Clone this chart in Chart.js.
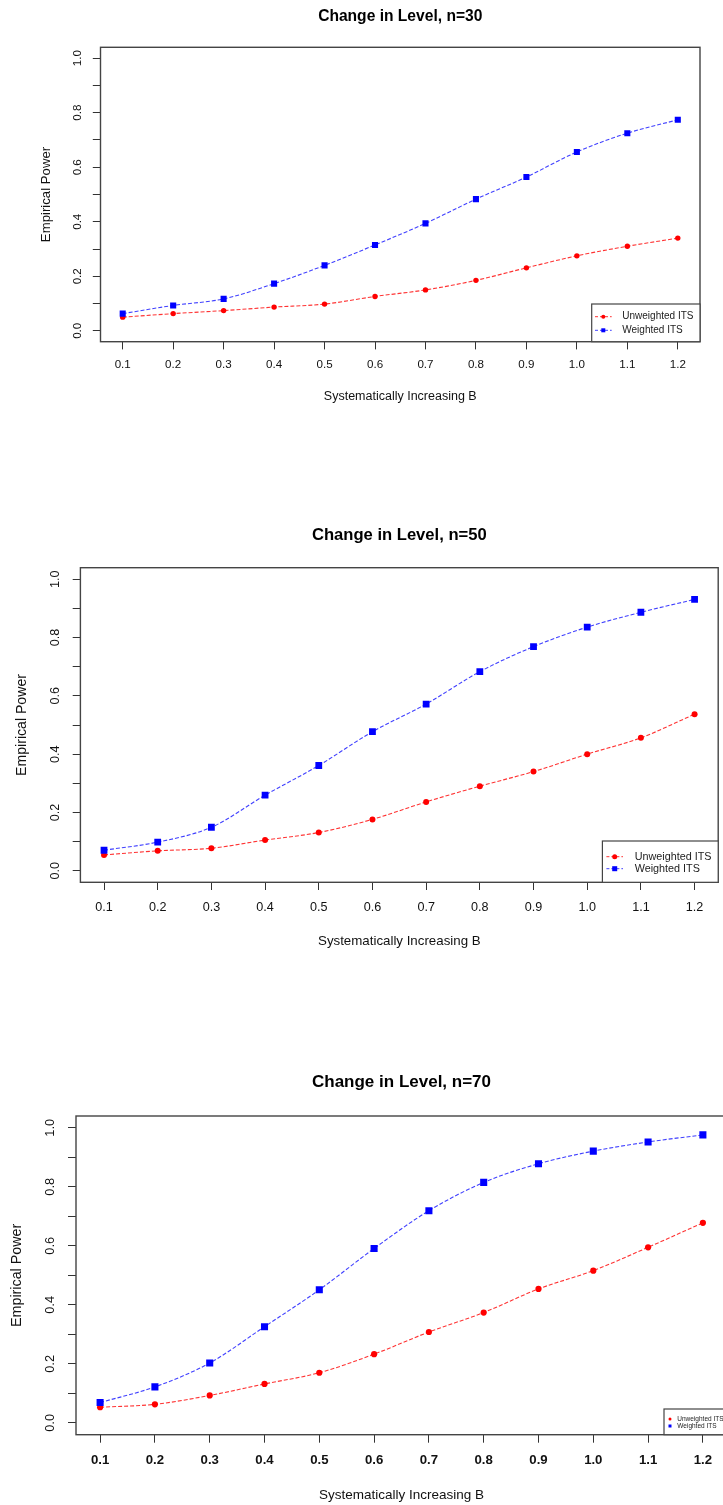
<!DOCTYPE html>
<html>
<head>
<meta charset="utf-8">
<title>Change in Level</title>
<script src="https://cdn.jsdelivr.net/npm/chart.js@4.4.1/dist/chart.umd.min.js"></script>
<style>
  html, body { margin: 0; padding: 0; background: #fff; overflow: hidden; }
  body { position: relative; width: 723px; height: 1505px; }
  canvas { position: absolute; left: 0; }
</style>
</head>
<body>
<canvas id="n30" width="723" height="430" style="top:0px"></canvas>
<canvas id="n50" width="723" height="460" style="top:500px"></canvas>
<canvas id="n70" width="735" height="455" style="top:1050px"></canvas>
<script>
const bValues = [0.1, 0.2, 0.3, 0.4, 0.5, 0.6, 0.7, 0.8, 0.9, 1.0, 1.1, 1.2];
const xTickLabels = ['0.1', '0.2', '0.3', '0.4', '0.5', '0.6', '0.7', '0.8', '0.9', '1.0', '1.1', '1.2'];
const yTickValues = [0, 0.1, 0.2, 0.3, 0.4, 0.5, 0.6, 0.7, 0.8, 0.9, 1.0];
const yTickLabels = ['0.0', '0.2', '0.4', '0.6', '0.8', '1.0'];
const seriesNames = ['Unweighted ITS', 'Weighted ITS'];

const unweighted30 = [0.050, 0.063, 0.074, 0.087, 0.098, 0.126, 0.150, 0.185, 0.231, 0.275, 0.310, 0.340];
const weighted30 = [0.063, 0.093, 0.117, 0.173, 0.240, 0.315, 0.394, 0.483, 0.564, 0.656, 0.725, 0.774];
const unweighted50 = [0.054, 0.068, 0.077, 0.105, 0.131, 0.176, 0.236, 0.290, 0.340, 0.400, 0.456, 0.537];
const weighted50 = [0.070, 0.098, 0.149, 0.259, 0.361, 0.477, 0.572, 0.683, 0.769, 0.836, 0.887, 0.931];
const unweighted70 = [0.053, 0.063, 0.093, 0.132, 0.170, 0.233, 0.308, 0.374, 0.454, 0.516, 0.595, 0.678];
const weighted70 = [0.069, 0.122, 0.203, 0.326, 0.451, 0.591, 0.719, 0.815, 0.878, 0.921, 0.952, 0.976];

const FONT = '"Liberation Sans", Arial, sans-serif';

// box, main title, rotated y labels and the legend, drawn the way R base graphics does
const rPlot = {
    id: 'rPlot',
    afterDraw(chart, args, opts) {
        const ctx = chart.ctx;
        const a = chart.chartArea;
        const y = chart.scales.y;
        ctx.save();

        ctx.strokeStyle = '#444';
        ctx.lineWidth = 1.4;
        ctx.strokeRect(a.left, a.top, a.right - a.left, a.bottom - a.top);

        ctx.fillStyle = '#000';
        ctx.textAlign = 'center';
        ctx.textBaseline = 'middle';
        ctx.font = 'bold ' + opts.titleSize + 'px ' + FONT;
        ctx.fillText(opts.title, (a.left + a.right) / 2, opts.titleY);

        ctx.fillStyle = '#111';
        ctx.font = opts.yLabelSize + 'px ' + FONT;
        yTickLabels.forEach(t => {
            ctx.save();
            ctx.translate(a.left - opts.yLabelGap, y.getPixelForValue(parseFloat(t)));
            ctx.rotate(-Math.PI / 2);
            ctx.fillText(t, 0, 0);
            ctx.restore();
        });

        const lg = opts.legend;
        const left = a.right - lg.w;
        const top = a.bottom - lg.h;
        ctx.fillStyle = '#fff';
        ctx.fillRect(left, top, lg.w, lg.h);
        ctx.strokeStyle = '#444';
        ctx.lineWidth = 1.2;
        ctx.strokeRect(left, top, lg.w, lg.h);

        chart.data.datasets.forEach((ds, i) => {
            const cy = top + lg.rows[i];
            if (lg.seg) {
                ctx.save();
                ctx.strokeStyle = ds.borderColor;
                ctx.lineWidth = 1;
                ctx.setLineDash([3, 2]);
                ctx.beginPath();
                ctx.moveTo(left + lg.seg[0], cy);
                ctx.lineTo(left + lg.seg[1], cy);
                ctx.stroke();
                ctx.restore();
            }
            const mx = left + lg.markX;
            ctx.fillStyle = ds.backgroundColor;
            if (ds.pointStyle === 'rect') {
                ctx.fillRect(mx - lg.square / 2, cy - lg.square / 2, lg.square, lg.square);
            } else {
                ctx.beginPath();
                ctx.arc(mx, cy, lg.dot, 0, Math.PI * 2);
                ctx.fill();
            }
            ctx.fillStyle = '#222';
            ctx.textAlign = 'left';
            ctx.font = lg.font + 'px ' + FONT;
            ctx.fillText(ds.label, left + lg.textX, cy);
        });
        ctx.restore();
    }
};

function series(label, values, line, color, style, radius, order) {
    return {
        label: label,
        data: bValues.map((b, i) => ({ x: b, y: values[i] })),
        order: order,
        borderColor: line,
        backgroundColor: color,
        borderWidth: 1.1,
        borderDash: [4, 2],
        pointStyle: style,
        pointRadius: radius,
        pointHoverRadius: radius,
        pointBorderWidth: 0,
        cubicInterpolationMode: 'monotone',
        fill: false
    };
}

function makeChart(id, c) {
    new Chart(document.getElementById(id), {
        type: 'line',
        data: {
            datasets: [
                // weighted series sits on top of the unweighted one
                series(seriesNames[0], c.unweighted, 'rgba(255,0,0,0.8)', '#ff0000', 'circle', c.dotR, 1),
                series(seriesNames[1], c.weighted, 'rgba(0,0,255,0.75)', '#0000ff', 'rect', c.squareR, 0)
            ]
        },
        options: {
            responsive: false,
            animation: false,
            events: [],
            layout: { padding: c.padding },
            plugins: {
                legend: { display: false },
                tooltip: { enabled: false },
                rPlot: {
                    title: c.title,
                    titleSize: c.titleSize,
                    titleY: c.titleY,
                    yLabelSize: c.yLabelSize,
                    yLabelGap: c.yLabelGap,
                    legend: c.legend
                }
            },
            scales: {
                x: {
                    type: 'linear',
                    min: 0.056,
                    max: 1.244,
                    afterBuildTicks: s => { s.ticks = bValues.map(v => ({ value: v })); },
                    afterFit: s => { s.height = c.xHeight; },
                    border: { display: false },
                    grid: { drawOnChartArea: false, drawTicks: true, tickLength: c.tickLen, color: '#333' },
                    ticks: {
                        autoSkip: false,
                        maxRotation: 0,
                        minRotation: 0,
                        padding: c.xTickPad,
                        color: '#111',
                        font: { family: FONT, size: c.xTickSize, weight: c.xTickWeight, lineHeight: 1.2 },
                        callback: (v, i) => xTickLabels[i]
                    },
                    title: {
                        display: true,
                        text: 'Systematically Increasing B',
                        color: '#111',
                        font: { family: FONT, size: c.xTitleSize, lineHeight: 1.2 },
                        padding: { top: 0, bottom: c.xTitlePad }
                    }
                },
                y: {
                    min: -0.04,
                    max: 1.04,
                    afterBuildTicks: s => { s.ticks = yTickValues.map(v => ({ value: v })); },
                    afterFit: s => { s.width = c.yWidth; },
                    border: { display: false },
                    grid: { drawOnChartArea: false, drawTicks: true, tickLength: c.tickLen, color: '#333' },
                    ticks: { display: false },
                    title: {
                        display: true,
                        text: 'Empirical Power',
                        color: '#111',
                        font: { family: FONT, size: c.yTitleSize, lineHeight: 1.2 },
                        padding: { top: c.yTitlePad, bottom: 0 }
                    }
                }
            }
        },
        plugins: [rPlot]
    });
}

makeChart('n30', {
    title: 'Change in Level, n=30', titleSize: 15.6, titleY: 16.7,
    unweighted: unweighted30, weighted: weighted30, dotR: 2.7, squareR: 4.3,
    padding: { top: 47.3, right: 23, bottom: 0, left: 0 },
    yWidth: 100.5, xHeight: 88.3, tickLen: 7.7,
    xTickSize: 11.6, xTickWeight: 'normal', xTickPad: 8.9,
    xTitleSize: 12.5, xTitlePad: 25.5,
    yTitleSize: 13.2, yTitlePad: 38.1,
    yLabelSize: 11.6, yLabelGap: 23,
    legend: { w: 108.3, h: 37.7, rows: [12.7, 26.3], seg: [3.3, 20], markX: 11.6, textX: 30.6, font: 10, dot: 2, square: 4 }
});

makeChart('n50', {
    title: 'Change in Level, n=50', titleSize: 16.6, titleY: 35,
    unweighted: unweighted50, weighted: weighted50, dotR: 3, squareR: 4.8,
    padding: { top: 67.7, right: 0.5, bottom: 0, left: 0 },
    yWidth: 80.4, xHeight: 77.7, tickLen: 7.7,
    xTickSize: 12.6, xTickWeight: 'normal', xTickPad: 9.7,
    xTitleSize: 13.3, xTitlePad: 10.3,
    yTitleSize: 14.1, yTitlePad: 13.6,
    yLabelSize: 12.6, yLabelGap: 25,
    legend: { w: 115.8, h: 41.3, rows: [15.7, 27.7], seg: [4, 20.6], markX: 12.3, textX: 32.3, font: 10.8, dot: 2.5, square: 5 }
});

makeChart('n70', {
    title: 'Change in Level, n=70', titleSize: 17, titleY: 32.7,
    unweighted: unweighted70, weighted: weighted70, dotR: 3.1, squareR: 5,
    padding: { top: 66, right: 8, bottom: 0, left: 0 },
    yWidth: 76, xHeight: 70.3, tickLen: 8,
    xTickSize: 13.2, xTickWeight: 'bold', xTickPad: 9.4,
    xTitleSize: 13.5, xTitlePad: 1.9,
    yTitleSize: 14.3, yTitlePad: 8.9,
    yLabelSize: 12.8, yLabelGap: 25.3,
    legend: { w: 63, h: 25.7, rows: [10, 17], seg: null, markX: 6, textX: 13.3, font: 6.5, dot: 1.5, square: 3 }
});
</script>
</body>
</html>
